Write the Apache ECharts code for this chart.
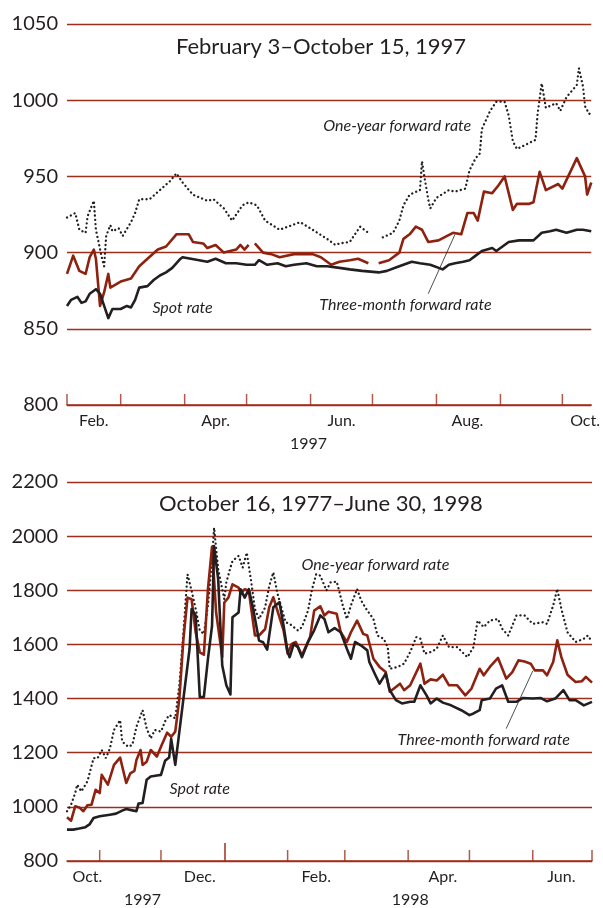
<!DOCTYPE html>
<html>
<head>
<meta charset="utf-8">
<script src="https://cdn.jsdelivr.net/npm/echarts@6/dist/echarts.min.js"></script>
<style>
  html, body { margin: 0; padding: 0; background: #fff; }
  #chart { width: 603px; height: 908px; }
</style>
</head>
<body>
<div id="chart"></div>
<script>
// ---- data: February 3 - October 15, 1997 ----
var topSpot = [
  ["1997-02-03", 865], ["1997-02-05", 869], ["1997-02-08", 871], ["1997-02-10", 867], ["1997-02-12", 868],
  ["1997-02-14", 873], ["1997-02-17", 876], ["1997-02-19", 873], ["1997-02-21", 865], ["1997-02-23", 857],
  ["1997-02-25", 863], ["1997-03-01", 863], ["1997-03-04", 865], ["1997-03-06", 864], ["1997-03-08", 869],
  ["1997-03-10", 877], ["1997-03-14", 878], ["1997-03-17", 882], ["1997-03-20", 885], ["1997-03-23", 887],
  ["1997-03-26", 890], ["1997-03-30", 896], ["1997-03-31", 897], ["1997-04-04", 896], ["1997-04-08", 895],
  ["1997-04-12", 894], ["1997-04-16", 896], ["1997-04-21", 893], ["1997-04-26", 893], ["1997-05-01", 892],
  ["1997-05-05", 892], ["1997-05-07", 895], ["1997-05-11", 892], ["1997-05-16", 893], ["1997-05-20", 891],
  ["1997-05-24", 892], ["1997-05-30", 893], ["1997-06-04", 891], ["1997-06-09", 891], ["1997-06-15", 890],
  ["1997-06-20", 889], ["1997-06-26", 888], ["1997-07-04", 887], ["1997-07-08", 888], ["1997-07-12", 890],
  ["1997-07-16", 892], ["1997-07-20", 894], ["1997-07-24", 893], ["1997-07-29", 892], ["1997-08-04", 889],
  ["1997-08-07", 892], ["1997-08-10", 893], ["1997-08-14", 894], ["1997-08-17", 895], ["1997-08-20", 898],
  ["1997-08-23", 901], ["1997-08-28", 903], ["1997-08-30", 901], ["1997-09-02", 904], ["1997-09-05", 907],
  ["1997-09-10", 908], ["1997-09-14", 908], ["1997-09-17", 908], ["1997-09-21", 913], ["1997-09-25", 914],
  ["1997-09-28", 915], ["1997-10-03", 913], ["1997-10-08", 915], ["1997-10-11", 915], ["1997-10-15", 914]
];
var topFwd3 = [
  ["1997-02-03", 886], ["1997-02-06", 898], ["1997-02-09", 888], ["1997-02-12", 886], ["1997-02-14", 897],
  ["1997-02-16", 902], ["1997-02-17", 896], ["1997-02-19", 865], ["1997-02-21", 874], ["1997-02-23", 886],
  ["1997-02-24", 877], ["1997-03-01", 881], ["1997-03-06", 883], ["1997-03-10", 891], ["1997-03-14", 896],
  ["1997-03-19", 902], ["1997-03-23", 904], ["1997-03-28", 912], ["1997-04-03", 912], ["1997-04-05", 907],
  ["1997-04-10", 906], ["1997-04-12", 903], ["1997-04-16", 905], ["1997-04-20", 900], ["1997-04-26", 902],
  ["1997-04-28", 905], ["1997-04-30", 902], ["1997-05-02", 905], ["1997-05-04", null], ["1997-05-05", 906],
  ["1997-05-09", 900], ["1997-05-13", 899], ["1997-05-17", 897], ["1997-05-24", 899], ["1997-06-02", 899],
  ["1997-06-06", 897], ["1997-06-11", 892], ["1997-06-15", 894], ["1997-06-20", 895], ["1997-06-24", 896],
  ["1997-06-29", 893], ["1997-07-01", null], ["1997-07-04", 893], ["1997-07-09", 895], ["1997-07-14", 900],
  ["1997-07-16", 909], ["1997-07-19", 912], ["1997-07-22", 917], ["1997-07-25", 915], ["1997-07-28", 907],
  ["1997-08-02", 908], ["1997-08-09", 913], ["1997-08-13", 912], ["1997-08-16", 926], ["1997-08-19", 926],
  ["1997-08-21", 921], ["1997-08-24", 940], ["1997-08-28", 939], ["1997-08-31", 944], ["1997-09-03", 950],
  ["1997-09-07", 928], ["1997-09-09", 932], ["1997-09-15", 932], ["1997-09-17", 933], ["1997-09-20", 953],
  ["1997-09-23", 941], ["1997-09-29", 945], ["1997-10-01", 942], ["1997-10-08", 962], ["1997-10-12", 950],
  ["1997-10-13", 938], ["1997-10-15", 946]
];
var topFwd12 = [
  ["1997-02-03", 923], ["1997-02-07", 926], ["1997-02-09", 915], ["1997-02-12", 913], ["1997-02-13", 924],
  ["1997-02-16", 934], ["1997-02-17", 915], ["1997-02-20", 896], ["1997-02-21", 891], ["1997-02-22", 911],
  ["1997-02-24", 918], ["1997-02-25", 914], ["1997-02-28", 916], ["1997-03-02", 911], ["1997-03-06", 920],
  ["1997-03-08", 926], ["1997-03-10", 935], ["1997-03-15", 935], ["1997-03-20", 941], ["1997-03-25", 947],
  ["1997-03-28", 952], ["1997-03-31", 946], ["1997-04-05", 938], ["1997-04-12", 934], ["1997-04-15", 935],
  ["1997-04-20", 929], ["1997-04-24", 921], ["1997-04-29", 931], ["1997-05-02", 933], ["1997-05-06", 931],
  ["1997-05-10", 921], ["1997-05-17", 915], ["1997-05-27", 920], ["1997-06-02", 915], ["1997-06-09", 909],
  ["1997-06-13", 905], ["1997-06-15", 906], ["1997-06-20", 907], ["1997-06-25", 917], ["1997-06-29", 913],
  ["1997-07-01", null], ["1997-07-06", 910], ["1997-07-11", 913], ["1997-07-14", 921], ["1997-07-16", 931],
  ["1997-07-19", 938], ["1997-07-24", 941], ["1997-07-25", 960], ["1997-07-26", 951], ["1997-07-28", 935],
  ["1997-07-29", 929], ["1997-08-01", 936], ["1997-08-07", 941], ["1997-08-10", 940], ["1997-08-15", 942],
  ["1997-08-17", 954], ["1997-08-20", 962], ["1997-08-22", 965], ["1997-08-23", 981], ["1997-08-25", 987],
  ["1997-08-27", 993], ["1997-08-30", 999], ["1997-09-03", 999], ["1997-09-05", 990], ["1997-09-07", 973],
  ["1997-09-09", 968], ["1997-09-15", 972], ["1997-09-18", 974], ["1997-09-19", 991], ["1997-09-21", 1011],
  ["1997-09-23", 995], ["1997-09-28", 998], ["1997-09-30", 993], ["1997-10-03", 1002], ["1997-10-08", 1010],
  ["1997-10-09", 1021], ["1997-10-11", 1009], ["1997-10-12", 996], ["1997-10-14", 991], ["1997-10-15", 992]
];

// ---- data: October 16, 1997 - June 30, 1998 ----
var botSpot = [
  ["1997-10-16", 916], ["1997-10-19", 916], ["1997-10-22", 920], ["1997-10-25", 925], ["1997-10-27", 935],
  ["1997-10-29", 959], ["1997-11-01", 965], ["1997-11-06", 971], ["1997-11-09", 975], ["1997-11-12", 986],
  ["1997-11-14", 992], ["1997-11-17", 987], ["1997-11-19", 984], ["1997-11-20", 1012], ["1997-11-22", 1014],
  ["1997-11-24", 1100], ["1997-11-26", 1112], ["1997-11-29", 1116], ["1997-12-01", 1118], ["1997-12-03", 1170],
  ["1997-12-05", 1182], ["1997-12-06", 1251], ["1997-12-08", 1155], ["1997-12-12", 1400], ["1997-12-15", 1584],
  ["1997-12-16", 1731], ["1997-12-18", 1706], ["1997-12-20", 1406], ["1997-12-22", 1406], ["1997-12-24", 1547],
  ["1997-12-26", 1669], ["1997-12-27", 1963], ["1997-12-29", 1841], ["1997-12-31", 1522], ["1998-01-02", 1449],
  ["1998-01-04", 1415], ["1998-01-05", 1700], ["1998-01-08", 1718], ["1998-01-09", 1804], ["1998-01-11", 1773],
  ["1998-01-13", 1804], ["1998-01-15", 1737], ["1998-01-18", 1614], ["1998-01-20", 1608], ["1998-01-22", 1581],
  ["1998-01-25", 1737], ["1998-01-28", 1756], ["1998-01-30", 1670], ["1998-02-01", 1572], ["1998-02-02", 1553],
  ["1998-02-04", 1602], ["1998-02-06", 1590], ["1998-02-08", 1553], ["1998-02-11", 1609], ["1998-02-14", 1652],
  ["1998-02-17", 1707], ["1998-02-19", 1694], ["1998-02-21", 1645], ["1998-02-24", 1660], ["1998-02-27", 1645],
  ["1998-03-02", 1584], ["1998-03-04", 1547], ["1998-03-06", 1609], ["1998-03-09", 1596], ["1998-03-12", 1578],
  ["1998-03-13", 1535], ["1998-03-16", 1486], ["1998-03-18", 1455], ["1998-03-21", 1492], ["1998-03-23", 1431],
  ["1998-03-26", 1394], ["1998-03-29", 1382], ["1998-04-02", 1388], ["1998-04-04", 1388], ["1998-04-07", 1449],
  ["1998-04-10", 1412], ["1998-04-12", 1382], ["1998-04-15", 1400], ["1998-04-18", 1385], ["1998-04-22", 1375],
  ["1998-04-27", 1357], ["1998-05-01", 1339], ["1998-05-03", 1345], ["1998-05-06", 1357], ["1998-05-07", 1394],
  ["1998-05-11", 1400], ["1998-05-14", 1437], ["1998-05-17", 1449], ["1998-05-20", 1388], ["1998-05-24", 1388],
  ["1998-05-27", 1402], ["1998-06-01", 1400], ["1998-06-05", 1402], ["1998-06-08", 1390], ["1998-06-12", 1400],
  ["1998-06-16", 1431], ["1998-06-19", 1394], ["1998-06-22", 1394], ["1998-06-26", 1375], ["1998-06-30", 1388]
];
var botFwd3 = [
  ["1997-10-16", 962], ["1997-10-18", 949], ["1997-10-20", 1002], ["1997-10-22", 998], ["1997-10-24", 984],
  ["1997-10-26", 1006], ["1997-10-28", 1008], ["1997-10-30", 1063], ["1997-11-01", 1051], ["1997-11-02", 1118],
  ["1997-11-05", 1082], ["1997-11-08", 1155], ["1997-11-11", 1182], ["1997-11-14", 1088], ["1997-11-16", 1124],
  ["1997-11-18", 1133], ["1997-11-19", 1173], ["1997-11-21", 1210], ["1997-11-22", 1155], ["1997-11-24", 1167],
  ["1997-11-26", 1210], ["1997-11-29", 1186], ["1997-12-01", 1222], ["1997-12-04", 1274], ["1997-12-06", 1259],
  ["1997-12-08", 1278], ["1997-12-10", 1400], ["1997-12-12", 1620], ["1997-12-14", 1773], ["1997-12-16", 1767],
  ["1997-12-18", 1645], ["1997-12-20", 1571], ["1997-12-22", 1562], ["1997-12-24", 1804], ["1997-12-26", 1961],
  ["1997-12-28", 1718], ["1997-12-31", 1553], ["1998-01-01", 1755], ["1998-01-03", 1773], ["1998-01-05", 1822],
  ["1998-01-08", 1810], ["1998-01-09", 1789], ["1998-01-11", 1804], ["1998-01-13", 1798], ["1998-01-16", 1633],
  ["1998-01-18", 1633], ["1998-01-21", 1657], ["1998-01-23", 1737], ["1998-01-25", 1774], ["1998-01-27", 1725],
  ["1998-01-30", 1652], ["1998-02-01", 1566], ["1998-02-03", 1602], ["1998-02-05", 1609], ["1998-02-08", 1560],
  ["1998-02-12", 1627], ["1998-02-14", 1725], ["1998-02-17", 1741], ["1998-02-19", 1707], ["1998-02-21", 1721],
  ["1998-02-25", 1713], ["1998-02-27", 1645], ["1998-03-02", 1609], ["1998-03-04", 1645], ["1998-03-07", 1688],
  ["1998-03-10", 1639], ["1998-03-12", 1633], ["1998-03-15", 1547], ["1998-03-18", 1517], ["1998-03-21", 1498],
  ["1998-03-23", 1425], ["1998-03-26", 1443], ["1998-03-28", 1455], ["1998-03-30", 1431], ["1998-04-02", 1449],
  ["1998-04-07", 1529], ["1998-04-09", 1455], ["1998-04-12", 1471], ["1998-04-15", 1467], ["1998-04-18", 1488],
  ["1998-04-21", 1449], ["1998-04-25", 1449], ["1998-04-29", 1412], ["1998-05-02", 1437], ["1998-05-06", 1510],
  ["1998-05-08", 1486], ["1998-05-11", 1517], ["1998-05-15", 1550], ["1998-05-19", 1474], ["1998-05-22", 1498],
  ["1998-05-25", 1541], ["1998-05-28", 1537], ["1998-05-31", 1529], ["1998-06-02", 1504], ["1998-06-06", 1504],
  ["1998-06-08", 1486], ["1998-06-11", 1535], ["1998-06-13", 1615], ["1998-06-15", 1553], ["1998-06-18", 1488],
  ["1998-06-20", 1474], ["1998-06-22", 1461], ["1998-06-25", 1464], ["1998-06-27", 1480], ["1998-06-30", 1459]
];
var botFwd12 = [
  ["1997-10-16", 984], ["1997-10-18", 1008], ["1997-10-20", 1051], ["1997-10-21", 1082], ["1997-10-23", 1057],
  ["1997-10-26", 1094], ["1997-10-29", 1180], ["1997-10-31", 1180], ["1997-11-02", 1210], ["1997-11-04", 1180],
  ["1997-11-06", 1216], ["1997-11-08", 1284], ["1997-11-11", 1320], ["1997-11-12", 1241], ["1997-11-15", 1222],
  ["1997-11-17", 1229], ["1997-11-19", 1296], ["1997-11-22", 1357], ["1997-11-24", 1290], ["1997-11-26", 1253],
  ["1997-11-28", 1284], ["1997-12-01", 1278], ["1997-12-03", 1316], ["1997-12-05", 1339], ["1997-12-08", 1327],
  ["1997-12-10", 1449], ["1997-12-12", 1645], ["1997-12-14", 1859], ["1997-12-16", 1798], ["1997-12-18", 1731],
  ["1997-12-20", 1651], ["1997-12-22", 1639], ["1997-12-24", 1743], ["1997-12-26", 1914], ["1997-12-27", 2031],
  ["1997-12-29", 1878], ["1998-01-01", 1767], ["1998-01-02", 1829], ["1998-01-04", 1884], ["1998-01-05", 1908],
  ["1998-01-08", 1927], ["1998-01-10", 1884], ["1998-01-12", 1939], ["1998-01-14", 1841], ["1998-01-16", 1731],
  ["1998-01-18", 1694], ["1998-01-21", 1737], ["1998-01-23", 1816], ["1998-01-25", 1866], ["1998-01-27", 1789],
  ["1998-01-31", 1682], ["1998-02-02", 1676], ["1998-02-06", 1652], ["1998-02-08", 1664], ["1998-02-11", 1725],
  ["1998-02-13", 1805], ["1998-02-15", 1860], ["1998-02-17", 1854], ["1998-02-20", 1799], ["1998-02-22", 1829],
  ["1998-02-25", 1832], ["1998-02-26", 1805], ["1998-02-28", 1744], ["1998-03-02", 1694], ["1998-03-04", 1744],
  ["1998-03-07", 1805], ["1998-03-09", 1762], ["1998-03-12", 1725], ["1998-03-15", 1694], ["1998-03-17", 1633],
  ["1998-03-20", 1621], ["1998-03-22", 1590], ["1998-03-23", 1510], ["1998-03-27", 1517], ["1998-03-30", 1529],
  ["1998-04-02", 1572], ["1998-04-05", 1627], ["1998-04-07", 1621], ["1998-04-09", 1566], ["1998-04-12", 1572],
  ["1998-04-15", 1584], ["1998-04-18", 1633], ["1998-04-21", 1590], ["1998-04-25", 1590], ["1998-04-30", 1553],
  ["1998-05-03", 1590], ["1998-05-05", 1688], ["1998-05-08", 1664], ["1998-05-11", 1688], ["1998-05-15", 1694],
  ["1998-05-17", 1658], ["1998-05-20", 1633], ["1998-05-24", 1707], ["1998-05-28", 1707], ["1998-06-01", 1676],
  ["1998-06-06", 1682], ["1998-06-08", 1676], ["1998-06-11", 1744], ["1998-06-13", 1805], ["1998-06-15", 1731],
  ["1998-06-18", 1645], ["1998-06-22", 1609], ["1998-06-26", 1621], ["1998-06-28", 1633], ["1998-06-30", 1609]
];

// ---- axes: ticks and labels ----
var topRange = ["1997-02-03", "1997-10-15"];
var topTicks = ["1997-02-03", "1997-03-01", "1997-04-01", "1997-05-01", "1997-06-01", "1997-07-01", "1997-08-01", "1997-09-01", "1997-10-01"];
var topMonthLabels = ["1997-02-16", "1997-04-16", "1997-06-16", "1997-08-16", "1997-10-12"];
var topYearTicks = [];
var topYearLabels = ["1997-05-31"];
var botRange = ["1997-10-16", "1998-06-30"];
var botTicks = ["1997-11-01", "1997-12-01", "1998-02-01", "1998-03-01", "1998-04-01", "1998-05-01", "1998-06-01", "1998-06-30"];
var botYearTicks = ["1998-01-01"];
var botMonthLabels = ["1997-10-26", "1997-12-20", "1998-02-15", "1998-04-18", "1998-06-15"];
var botYearLabels = ["1997-11-22", "1998-04-02"];
var monthNames = ["Jan.", "Feb.", "Mar.", "Apr.", "May", "Jun.", "Jul.", "Aug.", "Sep.", "Oct.", "Nov.", "Dec."];

// ---- titles and notes ----
var topTitle = "February 3\u2013October 15, 1997";
var botTitle = "October 16, 1977\u2013June 30, 1998";
var topNotes = [["One-year forward rate", "1997-07-13", 983], ["Spot rate", "1997-03-31", 864], ["Three-month forward rate", "1997-07-17", 866]];
var topLeader = [["1997-07-28", 873], ["1997-08-10", 912]];
var botNotes = [["One-year forward rate", "1998-03-16", 1895], ["Spot rate", "1997-12-20", 1068], ["Three-month forward rate", "1998-05-08", 1248]];
var botLeader = [["1998-05-19", 1289], ["1998-06-01", 1502]];

var INK = "#231f20";
var RED = "#8e2210";
var RULE = "#9e2f1d";
var FONT = 'Lato, "Open Sans", sans-serif';
var TICK_PX = 11;

// dates become day timestamps on a plain value axis
function t(s) {
  return new Date(s + "T00:00:00").getTime();
}

function pts(arr) {
  return arr.map(function (d) {
    return [t(d[0]), d[1] === null ? "-" : d[1]];
  });
}

// bottom axis (line + month names) and a second bottom axis for year names
// with the tall year-boundary tick
function dateAxes(grid, range, monthLabels, yearTicks, yearLabels) {
  var base = {
    type: "value",
    gridIndex: grid,
    position: "bottom",
    min: t(range[0]),
    max: t(range[1]),
    splitLine: { show: false },
  };
  var lineAxis = Object.assign({}, base, {
    axisLine: { show: true, onZero: false, lineStyle: { color: RULE, width: 1.5 } },
    axisTick: { show: false },
    axisLabel: {
      customValues: monthLabels.map(t),
      formatter: function (v) {
        return monthNames[new Date(v).getMonth()];
      },
      margin: 8,
      color: INK,
      fontSize: 16,
      fontFamily: FONT,
    },
  });
  var yearAxis = Object.assign({}, base, {
    axisLine: { show: false, onZero: false },
    axisTick: {
      show: yearTicks.length > 0,
      inside: true,
      length: 18,
      lineStyle: { color: RULE, width: 1.5 },
      customValues: yearTicks.length ? yearTicks.map(t) : undefined,
    },
    axisLabel: {
      customValues: yearLabels.map(t),
      formatter: function (v) {
        return String(new Date(v).getFullYear());
      },
      margin: 31,
      color: INK,
      fontSize: 16,
      fontFamily: FONT,
    },
  });
  return [lineAxis, yearAxis];
}

function valueAxis(grid, min, max, step) {
  return {
    type: "value",
    gridIndex: grid,
    min: min,
    max: max,
    interval: step,
    axisLine: { show: false },
    axisTick: { show: false },
    axisLabel: {
      color: INK,
      fontSize: 20,
      fontFamily: FONT,
      margin: 9,
      formatter: function (v) {
        return String(v);
      },
    },
    splitLine: { lineStyle: { color: RULE, width: 1.3 } },
  };
}

function lines(xi, yi, spot, fwd3, fwd12, notes, leader, ticks, yMin) {
  return [
    {
      name: "One-year forward rate",
      type: "line",
      xAxisIndex: xi,
      yAxisIndex: yi,
      data: pts(fwd12),
      symbol: "none",
      lineStyle: { color: INK, width: 2.3, type: [0.1, 4.2], cap: "round" },
    },
    {
      name: "Three-month forward rate",
      type: "line",
      xAxisIndex: xi,
      yAxisIndex: yi,
      data: pts(fwd3),
      symbol: "none",
      lineStyle: { color: RED, width: 2.6, join: "round" },
    },
    {
      name: "Spot rate",
      type: "line",
      xAxisIndex: xi,
      yAxisIndex: yi,
      data: pts(spot),
      symbol: "none",
      lineStyle: { color: INK, width: 2.6, join: "round" },
      markPoint: {
        silent: true,
        symbol: "rect",
        symbolSize: 1,
        itemStyle: { color: "rgba(0,0,0,0)" },
        label: {
          show: true,
          position: "inside",
          formatter: "{b}",
          color: INK,
          fontSize: 16,
          fontStyle: "italic",
          fontFamily: FONT,
        },
        data: notes.map(function (n) {
          return { name: n[0], coord: [t(n[1]), n[2]] };
        }),
      },
      markLine: {
        silent: true,
        symbol: ["none", "none"],
        label: { show: false },
        lineStyle: { color: INK, width: 0.8, type: "solid" },
        data: [
          [
            { coord: [t(leader[0][0]), leader[0][1]] },
            { coord: [t(leader[1][0]), leader[1][1]] },
          ],
        ],
      },
    },
    {
      // month-boundary ticks standing on the x axis
      name: "month ticks",
      type: "scatter",
      xAxisIndex: xi,
      yAxisIndex: yi,
      data: ticks.map(function (d) {
        return [t(d), yMin];
      }),
      symbol: "rect",
      symbolSize: [1.5, TICK_PX],
      symbolOffset: [0, -TICK_PX / 2],
      itemStyle: { color: RULE },
      clip: false,
      silent: true,
      z: 10,
    },
  ];
}

var topAxes = dateAxes(0, topRange, topMonthLabels, topYearTicks, topYearLabels);
var botAxes = dateAxes(1, botRange, botMonthLabels, botYearTicks, botYearLabels);

var chart = echarts.init(document.getElementById("chart"), null, { renderer: "canvas" });

var option = {
  animation: false,
  backgroundColor: "#ffffff",
  title: [
    {
      text: topTitle,
      left: 321,
      top: 36,
      textAlign: "center",
      padding: 0,
      textStyle: { color: INK, fontSize: 22, fontWeight: "normal", fontFamily: FONT },
    },
    {
      text: botTitle,
      left: 321,
      top: 493,
      textAlign: "center",
      padding: 0,
      textStyle: { color: INK, fontSize: 22, fontWeight: "normal", fontFamily: FONT },
    },
  ],
  grid: [
    { left: 67, right: 11, top: 24, height: 381 },
    { left: 67, right: 11, top: 482, height: 381 },
  ],
  xAxis: topAxes.concat(botAxes),
  yAxis: [valueAxis(0, 800, 1050, 50), valueAxis(1, 800, 2200, 200)],
  series: lines(0, 0, topSpot, topFwd3, topFwd12, topNotes, topLeader, topTicks, 800).concat(
    lines(topAxes.length, 1, botSpot, botFwd3, botFwd12, botNotes, botLeader, botTicks, 800)
  ),
};

chart.setOption(option);
</script>
</body>
</html>
